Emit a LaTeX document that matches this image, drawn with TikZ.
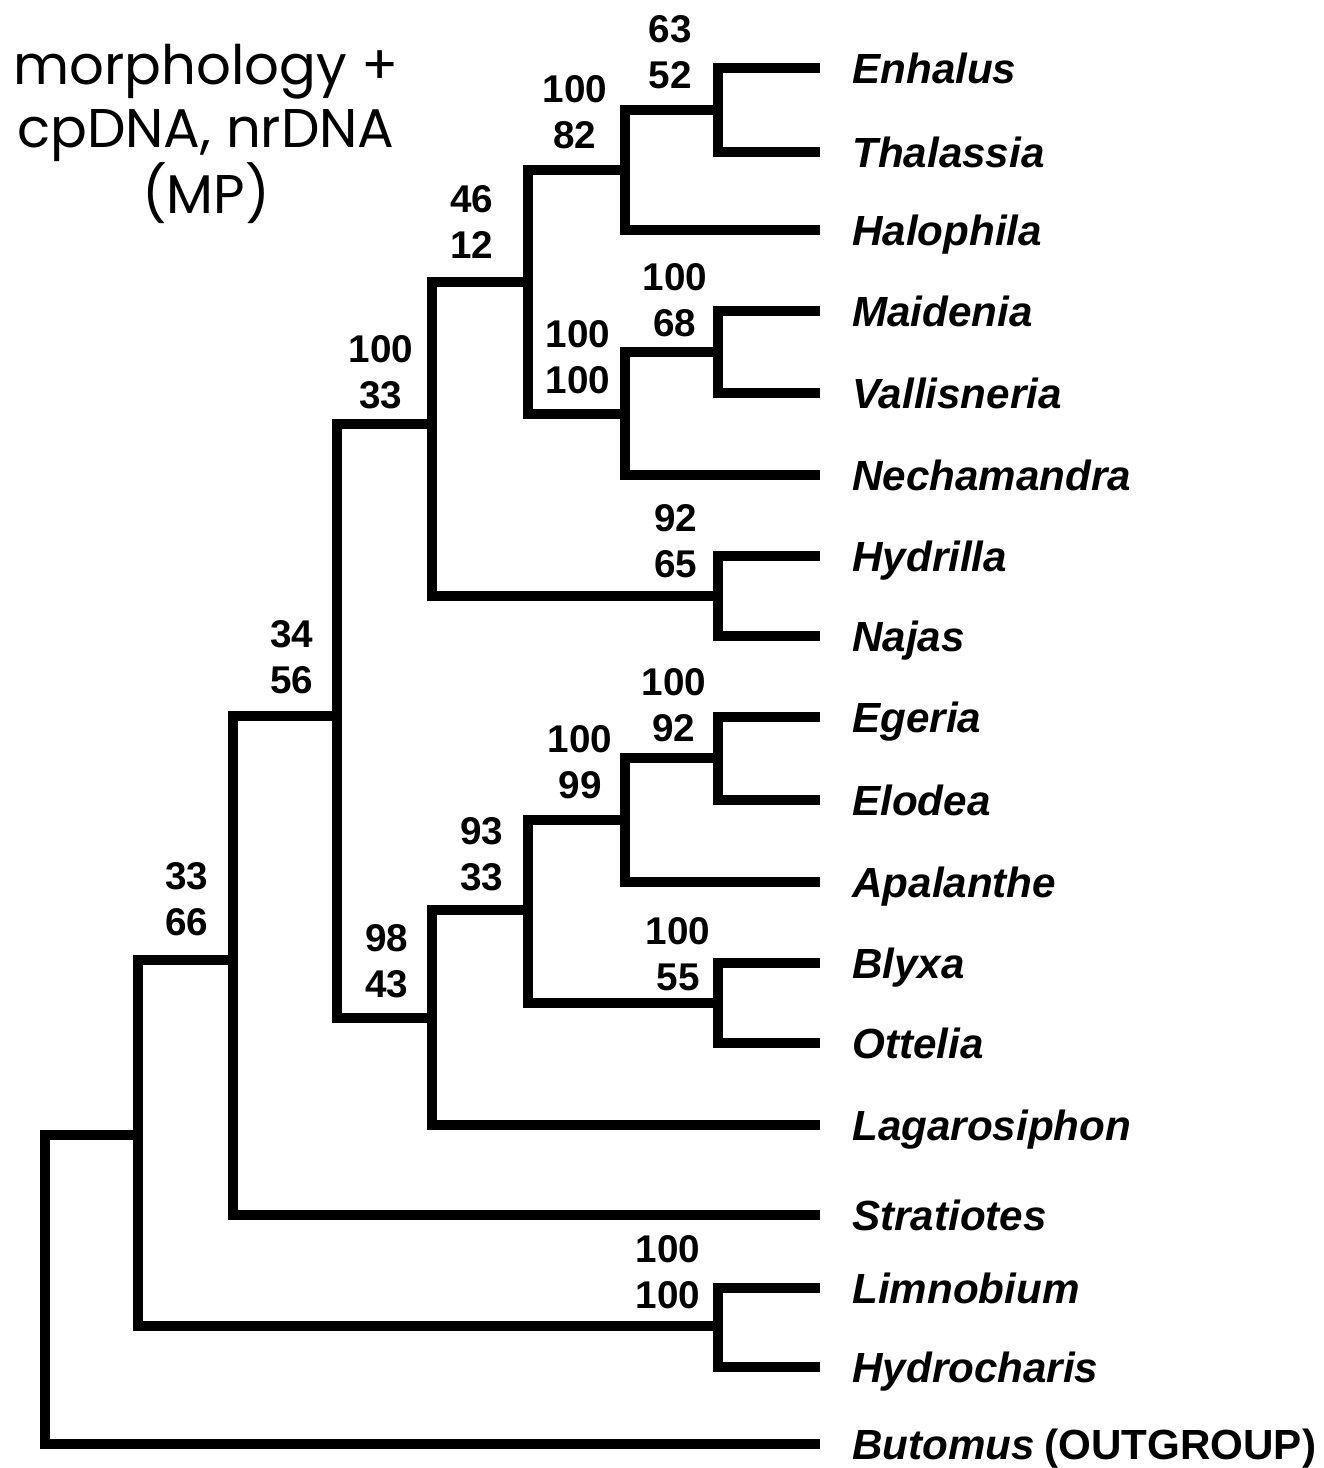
\documentclass[tikz,border=0pt]{standalone}
\usepackage{fontspec}
\setmainfont{Liberation Sans}
\newfontfamily\titlefont{Poppins}
\usetikzlibrary{positioning}

\begin{document}
\begin{tikzpicture}[
    x=0.02cm, y=-0.02cm,
    branch/.style={line width=0.2cm},
    taxon/.style={anchor=west, inner xsep=0.64cm, inner ysep=0pt, text height=17.2pt, text depth=0pt,
      font=\fontsize{24}{28}\selectfont\bfseries\itshape},
    supp/.style={anchor=south, align=center, inner sep=0pt, text depth=0pt,
      font=\fontsize{22}{26.2}\selectfont\bfseries}
  ]
    \useasboundingbox (0,0) rectangle (1323,1468);

    % title
    \node[align=center, inner sep=0pt, font=\titlefont\fontsize{31}{35.7}\selectfont] (title) at (206,134)
      {morphology +\\cpDNA, nrDNA\\(MP)};

    % taxa
    \node[taxon] (enhalus) at (820,68) {Enhalus};
    \node[taxon] (thalassia) at (820,152) {Thalassia};
    \node[taxon] (halophila) at (820,230) {Halophila};
    \node[taxon] (maidenia) at (820,311) {Maidenia};
    \node[taxon] (vallisneria) at (820,393) {Vallisneria};
    \node[taxon] (nechamandra) at (820,475) {Nechamandra};
    \node[taxon] (hydrilla) at (820,556) {Hydrilla};
    \node[taxon] (najas) at (820,636) {Najas};
    \node[taxon] (egeria) at (820,717) {Egeria};
    \node[taxon] (elodea) at (820,800) {Elodea};
    \node[taxon] (apalanthe) at (820,882) {Apalanthe};
    \node[taxon] (blyxa) at (820,963) {Blyxa};
    \node[taxon] (ottelia) at (820,1043) {Ottelia};
    \node[taxon] (lagarosiphon) at (820,1125) {Lagarosiphon};
    \node[taxon] (stratiotes) at (820,1215) {Stratiotes};
    \node[taxon] (limnobium) at (820,1288) {Limnobium};
    \node[taxon] (hydrocharis) at (820,1367) {Hydrocharis};
    \node[taxon, inner xsep=0pt] (butomus) at (820,1444) {\hspace{0.64cm}Butomus\hspace{0.22em}\textup{(OUTGROUP)}};

    % internal nodes
    \coordinate (hEnTh) at (718,110);
    \coordinate (hEnThHa) at (625,170);
    \coordinate (hMaVa) at (718,352);
    \coordinate (hMaVaNe) at (625,414);
    \coordinate (hTop) at (528,282);
    \coordinate (hHyNa) at (718,596);
    \coordinate (hA) at (432,424);
    \coordinate (hEgEl) at (718,758);
    \coordinate (hEgElAp) at (625,820);
    \coordinate (hBlOt) at (718,1003);
    \coordinate (hEgBl) at (528,910);
    \coordinate (hLag) at (432,1018);
    \coordinate (hB) at (337,716);
    \coordinate (hC) at (233,960);
    \coordinate (hLiHy) at (718,1326);
    \coordinate (hD) at (138,1135);
    \coordinate (hRoot) at (45,1290);

    % branches
    \draw[branch] (enhalus.west) -| (hEnTh) |- (thalassia.west);
    \draw[branch] (hEnTh) -| (hEnThHa) |- (halophila.west);
    \draw[branch] (maidenia.west) -| (hMaVa) |- (vallisneria.west);
    \draw[branch] (hMaVa) -| (hMaVaNe) |- (nechamandra.west);
    \draw[branch] (hEnThHa) -| (hTop) |- (hMaVaNe);
    \draw[branch] (hydrilla.west) -| (hHyNa) |- (najas.west);
    \draw[branch] (hTop) -| (hA) |- (hHyNa);
    \draw[branch] (egeria.west) -| (hEgEl) |- (elodea.west);
    \draw[branch] (hEgEl) -| (hEgElAp) |- (apalanthe.west);
    \draw[branch] (blyxa.west) -| (hBlOt) |- (ottelia.west);
    \draw[branch] (hEgElAp) -| (hEgBl) |- (hBlOt);
    \draw[branch] (hEgBl) -| (hLag) |- (lagarosiphon.west);
    \draw[branch] (hA) -| (hB) |- (hLag);
    \draw[branch] (hB) -| (hC) |- (stratiotes.west);
    \draw[branch] (limnobium.west) -| (hLiHy) |- (hydrocharis.west);
    \draw[branch] (hC) -| (hD) |- (hLiHy);
    \draw[branch] (hD) -| (hRoot) |- (butomus.west);

    % support values
    \node[supp] (sEnTh) at (670,89) {63\\52};
    \node[supp] (sEnThHa) at (575,149) {100\\82};
    \node[supp] (sTop) at (472,259) {46\\12};
    \node[supp] (sMaVa) at (675,337) {100\\68};
    \node[supp] (sMaVaNe) at (578,394) {100\\100};
    \node[supp] (sA) at (381,409) {100\\33};
    \node[supp] (sHyNa) at (676,578) {92\\65};
    \node[supp] (sB) at (292,694) {34\\56};
    \node[supp] (sEgEl) at (674,742) {100\\92};
    \node[supp] (sEgElAp) at (580,799) {100\\99};
    \node[supp] (sEgBl) at (482,891) {93\\33};
    \node[supp] (sLag) at (387,998) {98\\43};
    \node[supp] (sBlOt) at (678,991) {100\\55};
    \node[supp] (sC) at (187,936) {33\\66};
    \node[supp] (sLiHy) at (668,1309) {100\\100};
  \end{tikzpicture}
\end{document}
